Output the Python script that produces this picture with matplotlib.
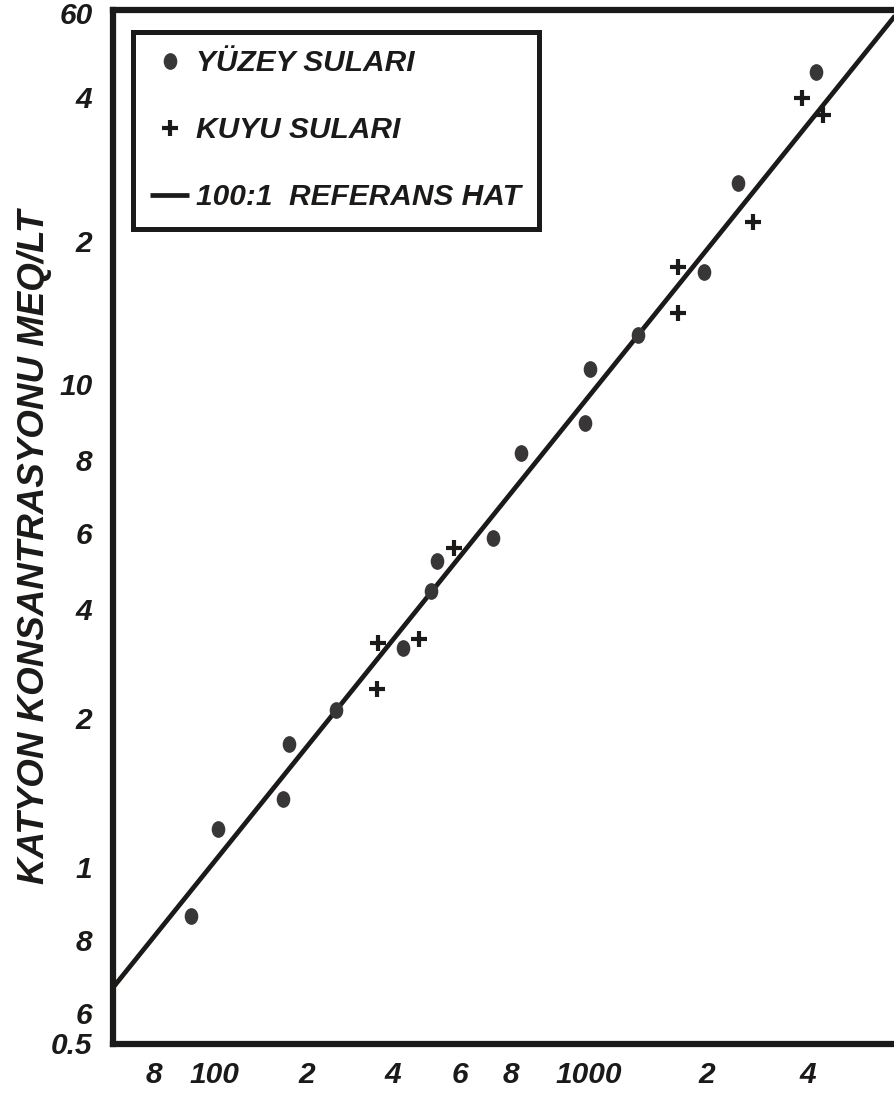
import matplotlib
matplotlib.use('Agg')
import matplotlib.pyplot as plt
import numpy as np
from matplotlib.path import Path
from matplotlib.transforms import Affine2D
from matplotlib.ticker import NullLocator

plt.rcParams['font.family'] = ['Liberation Sans', 'DejaVu Sans']
plt.rcParams['font.weight'] = 'bold'
plt.rcParams['font.style'] = 'italic'

# surface waters (dots) and well waters (crosses)
surface_x = [87, 102, 151, 156, 207, 309, 366, 379, 531, 628, 922, 950, 1268, 1884, 2311, 3691]
surface_y = [0.77, 1.17, 1.35, 1.76, 2.08, 2.80, 3.69, 4.27, 4.77, 7.18, 8.30, 10.8, 12.7, 17.2, 26.5, 45.2]
well_x = [265, 266, 340, 420, 1612, 1612, 2528, 3393, 3849]
well_y = [2.30, 2.87, 2.93, 4.54, 14.1, 17.6, 21.9, 39.9, 36.7]
ratio = 100  # 100:1 reference line

x_tick_labels = ['8', '100', '2', '4', '6', '8', '1000', '2', '4']
y_tick_labels = ['60', '4', '2', '10', '8', '6', '4', '2', '1', '8', '6', '0.5']

# where the labels sit on the axes
x_tick_pos = [69.7, 100, 173.8, 291, 435, 591, 945, 1918, 3518]
y_tick_pos = [60, 40, 20, 10, 6.95, 4.88, 3.38, 2.0, 0.975, 0.684, 0.481, 0.416]

ink = '#1c1a19'

fig = plt.figure(figsize=(8.95, 10.97), dpi=100)
ax = fig.add_axes([0.1257, 0.0483, 0.8743, 0.9426])
ax.set_xscale('log')
ax.set_yscale('log')
ax.set_xlim(54.2, 5930)
ax.set_ylim(0.414, 61.0)

xl = np.array(ax.get_xlim())
ax.plot(xl, xl / ratio, color=ink, lw=3.4, solid_capstyle='butt', zorder=2,
        label='100:1  REFERANS HAT')

ellipse = Path.unit_circle().transformed(Affine2D().scale(0.8, 1.0))
ax.plot(surface_x, surface_y, linestyle='none', marker=ellipse, markersize=11,
        color='#383636', zorder=3, label='YÜZEY SULARI')
ax.plot(well_x, well_y, linestyle='none', marker='+', markersize=12,
        markeredgewidth=3, color=ink, zorder=3, label='KUYU SULARI')

for side in ['left', 'top', 'bottom']:
    ax.spines[side].set_linewidth(4.5)
    ax.spines[side].set_color(ink)
ax.spines['right'].set_visible(False)

ax.set_xticks(x_tick_pos, x_tick_labels)
ax.set_yticks(y_tick_pos, y_tick_labels)
ax.xaxis.set_minor_locator(NullLocator())
ax.yaxis.set_minor_locator(NullLocator())
ax.tick_params(axis='x', length=0, pad=12, labelsize=21.5, colors=ink)
ax.tick_params(axis='y', length=0, pad=14.5, labelsize=21.5, colors=ink)

fig.text(35 / 895, 1 - 547 / 1097, 'KATYON KONSANTRASYONU MEQ/LT',
         rotation=90, ha='center', va='center', fontsize=26.5, color=ink)

handles, labels = ax.get_legend_handles_labels()
order = [1, 2, 0]
leg = ax.legend([handles[i] for i in order], [labels[i] for i in order],
                loc='upper left', bbox_to_anchor=(0.026, 0.979), borderaxespad=0,
                fontsize=21.5, frameon=True, fancybox=False, edgecolor=ink,
                framealpha=1, handlelength=1.3, handletextpad=0.25,
                labelspacing=1.31, borderpad=0.58)
leg.get_frame().set_linewidth(3.6)
for t in leg.get_texts():
    t.set_color(ink)

fig.savefig('out.png', dpi=100)
